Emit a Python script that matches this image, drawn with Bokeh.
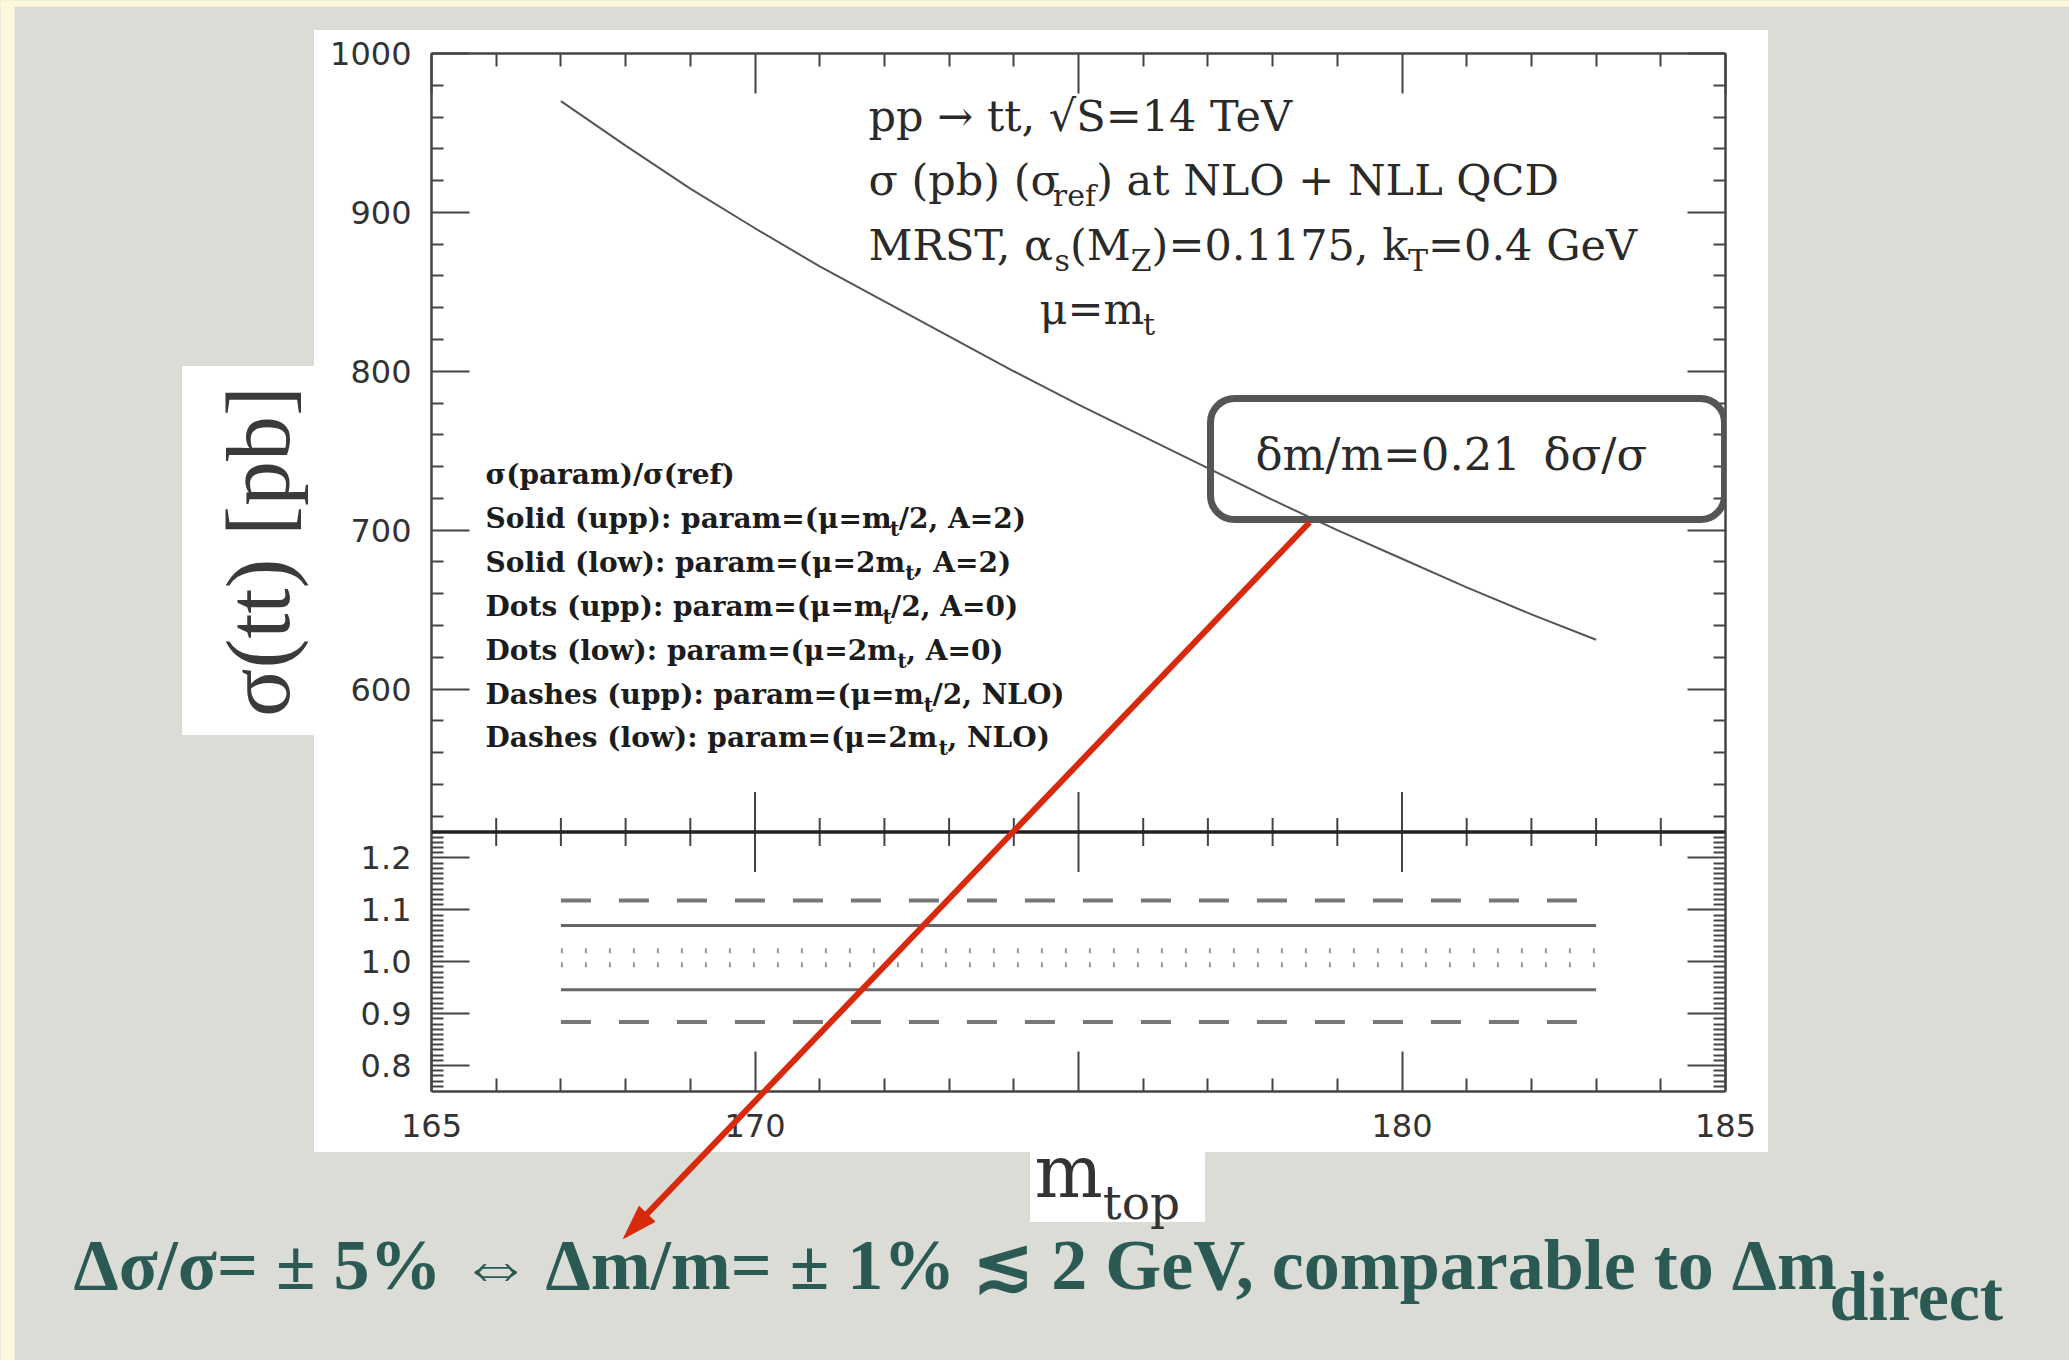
import numpy as np
from bokeh.plotting import figure
from bokeh.core.properties import value
from bokeh.models import (Range1d, LinearAxis, FixedTicker, BoxAnnotation, Label, Span)
from bokeh.embed import file_html
from bokeh.resources import INLINE

# ---------------- data ----------------
m_top = [167, 168, 169, 170, 171, 172, 173, 174, 175, 176, 177, 178, 179, 180, 181, 182, 183]
sigma_ref = [970, 942, 915, 890, 866, 844, 822, 800, 779, 759, 739, 719, 700, 682, 664, 647, 631]

ratio_mass = [167, 183]
dashes_upp = [1.118, 1.118]
solid_upp = [1.070, 1.070]
dots_upp = [1.021, 1.021]
dots_low = [0.994, 0.994]
solid_low = [0.946, 0.946]
dashes_low = [0.884, 0.884]

x_major = [165, 170, 175, 180, 185]
x_labels = ["165", "170", "", "180", "185"]
x_minor = [166, 167, 168, 169, 171, 172, 173, 174, 176, 177, 178, 179, 181, 182, 183, 184]
sig_major = [600, 700, 800, 900, 1000]
sig_labels = ["600", "700", "800", "900", "1000"]
sig_minor = [520, 540, 560, 580, 620, 640, 660, 680, 720, 740, 760, 780, 820, 840, 860, 880,
             920, 940, 960, 980]
rat_major = [0.8, 0.9, 1.0, 1.1, 1.2]
rat_labels = ["0.8", "0.9", "1.0", "1.1", "1.2"]
rat_minor = [round(v, 2) for v in np.arange(0.76, 1.245, 0.01) if round(v, 2) not in rat_major]

SIG_PANEL = (510, 1000)
RAT_PANEL = (0.75, 1.25)
UPPER_FRAC = 0.75

# ---------------- colours ----------------
SLIDE = "#dbdcd5"
CREAM = "#fdf8dc"
AX = "#444444"
RED = "#d8290c"
TEAL = "#2b5a54"

sig_span = (SIG_PANEL[1] - SIG_PANEL[0]) / UPPER_FRAC
sig_lo = SIG_PANEL[1] - sig_span
rat_span = (RAT_PANEL[1] - RAT_PANEL[0]) / (1 - UPPER_FRAC)


def rat_to_sig(r):
    return round(sig_lo + (r - RAT_PANEL[0]) / rat_span * sig_span, 6)


W, H = 2069, 1360
FL, FT, FR, FB = 431, 53, 1725, 1091   # frame edges in page pixels
p = figure(width=W, height=H, output_backend="svg", toolbar_location=None,
           x_range=Range1d(165, 185), y_range=Range1d(sig_lo, SIG_PANEL[1]),
           x_axis_type=None, y_axis_type=None,
           min_border_left=FL, min_border_right=W - FR, min_border_top=FT, min_border_bottom=H - FB)
p.extra_y_ranges = {"ratio": Range1d(RAT_PANEL[0], RAT_PANEL[0] + rat_span),
                    "cy": Range1d(FB, FT)}
p.extra_x_ranges = {"cx": Range1d(FL, FR)}
p.outline_line_color = None
p.background_fill_color = "white"
p.border_fill_color = "white"

# ---------------- axes ----------------
y_ticks = sig_major + [rat_to_sig(r) for r in rat_major]
y_minor = sig_minor + [rat_to_sig(r) for r in rat_minor]
y_over = dict(zip(sig_major, sig_labels))
y_over.update({rat_to_sig(r): t for r, t in zip(rat_major, rat_labels)})


def style_axis(ax):
    ax.axis_line_color = AX
    ax.axis_line_width = 2.5
    ax.major_tick_line_color = AX
    ax.major_tick_line_width = 2
    ax.minor_tick_line_color = AX
    ax.minor_tick_line_width = 2
    ax.major_tick_out = 0
    ax.minor_tick_out = 0
    ax.major_label_text_font = "DejaVu Sans"
    ax.major_label_text_font_size = "32px"
    ax.major_label_text_color = "#333333"
    ax.major_label_standoff = 20


left = LinearAxis(ticker=FixedTicker(ticks=y_ticks, minor_ticks=y_minor), major_label_overrides=y_over)
style_axis(left)
left.major_tick_in = 38
left.minor_tick_in = 12
p.add_layout(left, "left")

right = LinearAxis(ticker=FixedTicker(ticks=y_ticks, minor_ticks=y_minor),
                   major_label_overrides={k: "" for k in y_ticks})
style_axis(right)
right.major_tick_in = 38
right.minor_tick_in = 12
p.add_layout(right, "right")

bottom = LinearAxis(ticker=FixedTicker(ticks=x_major, minor_ticks=x_minor),
                    major_label_overrides=dict(zip(x_major, x_labels)))
style_axis(bottom)
bottom.major_tick_in = 40
bottom.minor_tick_in = 13
bottom.major_label_standoff = 22
p.add_layout(bottom, "below")

top = LinearAxis(ticker=FixedTicker(ticks=x_major, minor_ticks=x_minor),
                 major_label_overrides={k: "" for k in x_major})
style_axis(top)
top.major_tick_in = 40
top.minor_tick_in = 13
p.add_layout(top, "above")

# separator between panels with two-sided ticks
p.add_layout(Span(location=RAT_PANEL[1], dimension="width", y_range_name="ratio",
                  line_color="#222222", line_width=3.5))
p.scatter(x=x_major[1:-1], y=[RAT_PANEL[1]] * 3, y_range_name="ratio", marker="dash",
          angle=np.pi / 2, size=80, line_color=AX, line_width=2)
p.scatter(x=x_minor, y=[RAT_PANEL[1]] * len(x_minor), y_range_name="ratio", marker="dash",
          angle=np.pi / 2, size=28, line_color=AX, line_width=2)

# ---------------- data lines ----------------
p.line(m_top, sigma_ref, line_color="#555555", line_width=2)

p.line(ratio_mass, dashes_upp, y_range_name="ratio", line_color="#777777", line_width=4, line_dash="30 28")
p.line(ratio_mass, dashes_low, y_range_name="ratio", line_color="#777777", line_width=4, line_dash="30 28")
p.line(ratio_mass, solid_upp, y_range_name="ratio", line_color="#666666", line_width=3)
p.line(ratio_mass, solid_low, y_range_name="ratio", line_color="#666666", line_width=3)
p.line(ratio_mass, dots_upp, y_range_name="ratio", line_color="#999999", line_width=5, line_dash="2 22")
p.line(ratio_mass, dots_low, y_range_name="ratio", line_color="#999999", line_width=5, line_dash="2 22")

# ---------------- texts inside the chart ----------------
WID = {' ': .318, '(': .39, ')': .39, '+': .838, ',': .318, '-': .338, '.': .318, '/': .337, ':': .337,
       '=': .838, '0': .636, '1': .636, '2': .636, '4': .636, '5': .636, '7': .636,
       'A': .722, 'C': .765, 'D': .802, 'G': .799, 'L': .664, 'M': 1.024, 'N': .875, 'O': .82,
       'Q': .82, 'R': .753, 'S': .685, 'T': .667, 'V': .722, 'Z': .694,
       'a': .596, 'b': .64, 'd': .64, 'e': .592, 'f': .37, 'h': .644, 'i': .32, 'k': .6, 'l': .32,
       'm': .948, 'n': .644, 'o': .602, 'p': .64, 'r': .478, 's': .513, 't': .402, 'u': .644,
       'w': .856, 'α': .56, 'σ': .60, 'μ': .62, 'δ': .6, '→': .838, '√': .636}

SHIFT = 0.34   # texts are placed by their visual middle: baseline minus this fraction of the size


def lab(x, y, text, size, font="DejaVu Serif", color="#2a2a2a", style="normal", align="left"):
    p.add_layout(Label(x=x, y=y - SHIFT * size, x_range_name="cx", y_range_name="cy", text=text,
                       text_font=font, text_font_size="%dpx" % round(size), text_color=color,
                       text_font_style=style, text_align=align, text_baseline="alphabetic"))


def rich(x, y, parts, size, color="#2a2a2a", style="normal", wscale=1.0):
    for text, sub in parts:
        s = size * 0.7 if sub else size
        lab(x, y + (size * 0.25 if sub else 0), text, s, color=color, style=style)
        x += sum(WID.get(c, 0.6) for c in text) * s * wscale


TS = 43
rich(868, 130, [("pp → tt, √S=14 TeV", 0)], TS)
rich(868, 194, [("σ (pb) (σ", 0), ("ref", 1), (") at NLO + NLL QCD", 0)], TS)
rich(868, 259, [("MRST, α", 0), ("s", 1), ("(M", 0), ("Z", 1), (")=0.1175, k", 0), ("T", 1),
                ("=0.4 GeV", 0)], TS)
rich(1039, 323, [("μ=m", 0), ("t", 1)], TS)

LS = 28
legend_lines = [
    [("σ(param)/σ(ref)", 0)],
    [("Solid (upp): param=(μ=m", 0), ("t", 1), ("/2, A=2)", 0)],
    [("Solid (low): param=(μ=2m", 0), ("t", 1), (", A=2)", 0)],
    [("Dots (upp): param=(μ=m", 0), ("t", 1), ("/2, A=0)", 0)],
    [("Dots (low): param=(μ=2m", 0), ("t", 1), (", A=0)", 0)],
    [("Dashes (upp): param=(μ=m", 0), ("t", 1), ("/2, NLO)", 0)],
    [("Dashes (low): param=(μ=2m", 0), ("t", 1), (", NLO)", 0)],
]
legend_base = [484, 528, 572, 616, 660, 704, 747]
for parts, yb in zip(legend_lines, legend_base):
    rich(485, yb, parts, LS, color="#1c1c1c", style="bold", wscale=1.10)

# rounded box with relation
p.add_layout(BoxAnnotation(left=1210, right=1724, top=398, bottom=519, x_range_name="cx", y_range_name="cy",
                           fill_color=None, fill_alpha=0, line_color="#555555", line_alpha=1.0,
                           line_width=7, border_radius=24))
lab(1255, 469, "δm/m=0.21\u2002δσ/σ", 45)

# ---------------- slide background around the white chart picture ----------------
# (page-pixel rectangles: grey slide outside the white picture areas)
bg_l = [0, 0, 181, 181, 1768, 313, 1205, 1029]
bg_r = [2069, 181, 313, 313, 2069, 1029, 1768, 1205]
bg_t = [0, 29, 29, 735, 29, 1152, 1152, 1222]
bg_b = [29, 1360, 365, 1360, 1360, 1360, 1360, 1360]
p.quad(left=bg_l, right=bg_r, top=bg_t, bottom=bg_b, x_range_name="cx", y_range_name="cy",
       fill_color=SLIDE, line_color=SLIDE, line_width=1, level="annotation")
p.quad(left=[0, 0], right=[14, 2069], top=[0, 0], bottom=[1360, 6], x_range_name="cx", y_range_name="cy",
       fill_color=CREAM, line_color=None, level="annotation")


def gtext(x, y, text, size, font="Liberation Serif", color="#333333", style="normal", align="left",
          baseline="alphabetic", angle=0.0, shift=True):
    yy = y - SHIFT * size if shift else y
    p.text(x=[x], y=[yy], text=[text], x_range_name="cx", y_range_name="cy", angle=angle,
           text_font=value(font), text_font_size=value("%dpx" % round(size)), text_color=color,
           text_font_style=style, text_align=align, text_baseline=baseline, level="overlay")


# axis titles of the slide
gtext(258, 551, "σ(tt) [pb]", 90, color="#3a3a3a", align="center", baseline="middle", angle=np.pi / 2,
      shift=False)
gtext(1034, 1196, "m", 72, font="DejaVu Serif")
gtext(1034 + 0.948 * 72, 1218, "top", 47, font="DejaVu Serif")

# bottom statement
gtext(73, 1289, "Δσ/σ= ± 5% ⇔ Δm/m= ± 1% ≲ 2 GeV, comparable to Δm", 72, color=TEAL, style="bold")
gtext(1829, 1320, "direct", 70, color=TEAL, style="bold")

# red arrow from the curve down to the statement
xs, ys, xe, ye = 1309.0, 522.0, 623.0, 1238.0
L = np.hypot(xe - xs, ye - ys)
ux, uy = (xe - xs) / L, (ye - ys) / L
hl, hw = 34.0, 11.0
bx, by = xe - hl * ux, ye - hl * uy
p.segment(x0=[xs], y0=[ys], x1=[bx], y1=[by], x_range_name="cx", y_range_name="cy",
          line_color=RED, line_width=6, level="overlay")
p.patch(x=[xe, bx - hw * uy, bx + hw * uy], y=[ye, by + hw * ux, by - hw * ux],
        x_range_name="cx", y_range_name="cy", fill_color=RED, line_color=RED, level="overlay")

open("out.html", "w").write(file_html(p, INLINE))
